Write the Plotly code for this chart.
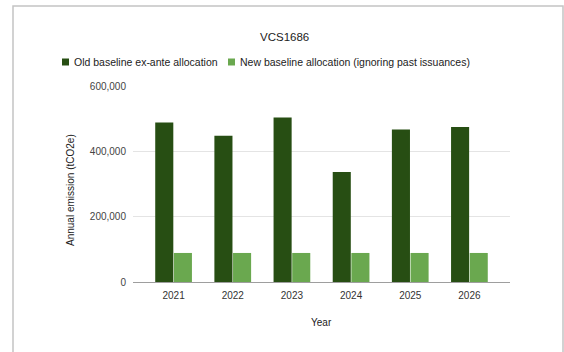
import plotly.graph_objects as go

# Data
years = ["2021", "2022", "2023", "2024", "2025", "2026"]
old_baseline = [489000, 448000, 504000, 337000, 467000, 475000]
new_baseline = [89000, 89000, 89000, 89000, 89000, 89000]
series_names = ["Old baseline ex-ante allocation",
                "New baseline allocation (ignoring past issuances)"]
series_colors = ["#274e13", "#6aa84f"]
y_ticks = [0, 200000, 400000, 600000]
y_tick_text = ["0", "200,000", "400,000", "600,000"]

W, H = 564, 352
# plot area in pixels
L, R, T, B = 133, 510, 86, 282


def px_x(x):
    return (x - L) / (R - L)


def px_y(y):
    return (B - y) / (B - T)


FONT = "Liberation Sans, Arial, sans-serif"

fig = go.Figure()
for name, vals, col in zip(series_names, [old_baseline, new_baseline], series_colors):
    fig.add_trace(go.Bar(x=years, y=vals, name=name, marker_color=col,
                         marker_line_width=0, showlegend=False))

pad = 0.186
fig.update_layout(
    width=W, height=H,
    margin=dict(l=L, r=W - R, t=T, b=H - B, pad=0),
    paper_bgcolor="white", plot_bgcolor="white",
    barmode="group", bargap=0.37, bargroupgap=0.03,
    font=dict(family=FONT, size=10, color="#444"),
    xaxis=dict(type="category", range=[-0.5 - pad, 5.5 + pad],
               showgrid=False, showline=False, zeroline=False,
               ticks="", ticklabelstandoff=6,
               tickfont=dict(size=10, color="#333")),
    yaxis=dict(range=[0, 600600], tickvals=y_ticks, ticktext=y_tick_text,
               showgrid=True, gridcolor="#e4e4e4", gridwidth=1,
               zeroline=True, zerolinecolor="#9e9e9e", zerolinewidth=1,
               showline=False, ticks="", ticklabelstandoff=6,
               tickfont=dict(size=10, color="#444")),
    showlegend=False,
)

shapes = []
# outer frame
shapes.append(dict(type="rect", xref="paper", yref="paper",
                   x0=px_x(13), x1=px_x(563), y0=px_y(370), y1=px_y(6),
                   line=dict(color="#c4c4c4", width=1.5), fillcolor="rgba(0,0,0,0)",
                   layer="below"))

annotations = []
# title
annotations.append(dict(text="VCS1686", xref="paper", yref="paper",
                        x=px_x(284), y=px_y(37), showarrow=False,
                        xanchor="center", yanchor="middle",
                        font=dict(family=FONT, size=11.5, color="#222")))

# legend (squares + labels)
legend_x = [62, 228]
for lx, name, col in zip(legend_x, series_names, series_colors):
    shapes.append(dict(type="rect", xref="paper", yref="paper",
                       x0=px_x(lx), x1=px_x(lx + 7), y0=px_y(65.5), y1=px_y(58.5),
                       line=dict(width=0), fillcolor=col))
    annotations.append(dict(text=name, xref="paper", yref="paper",
                            x=px_x(lx + 10), y=px_y(62), showarrow=False,
                            xanchor="left", yanchor="middle",
                            font=dict(family=FONT, size=10.5, color="#222")))

# axis titles
annotations.append(dict(text="Year", xref="paper", yref="paper",
                        x=px_x(321.5), y=px_y(322.5), showarrow=False,
                        xanchor="center", yanchor="middle",
                        font=dict(family=FONT, size=10, color="#222")))
annotations.append(dict(text="Annual emission (tCO2e)", xref="paper", yref="paper",
                        x=px_x(70), y=px_y(190), showarrow=False, textangle=-90,
                        xanchor="center", yanchor="middle",
                        font=dict(family=FONT, size=10, color="#222")))

fig.update_layout(shapes=shapes, annotations=annotations)
fig.write_html("out.html")
